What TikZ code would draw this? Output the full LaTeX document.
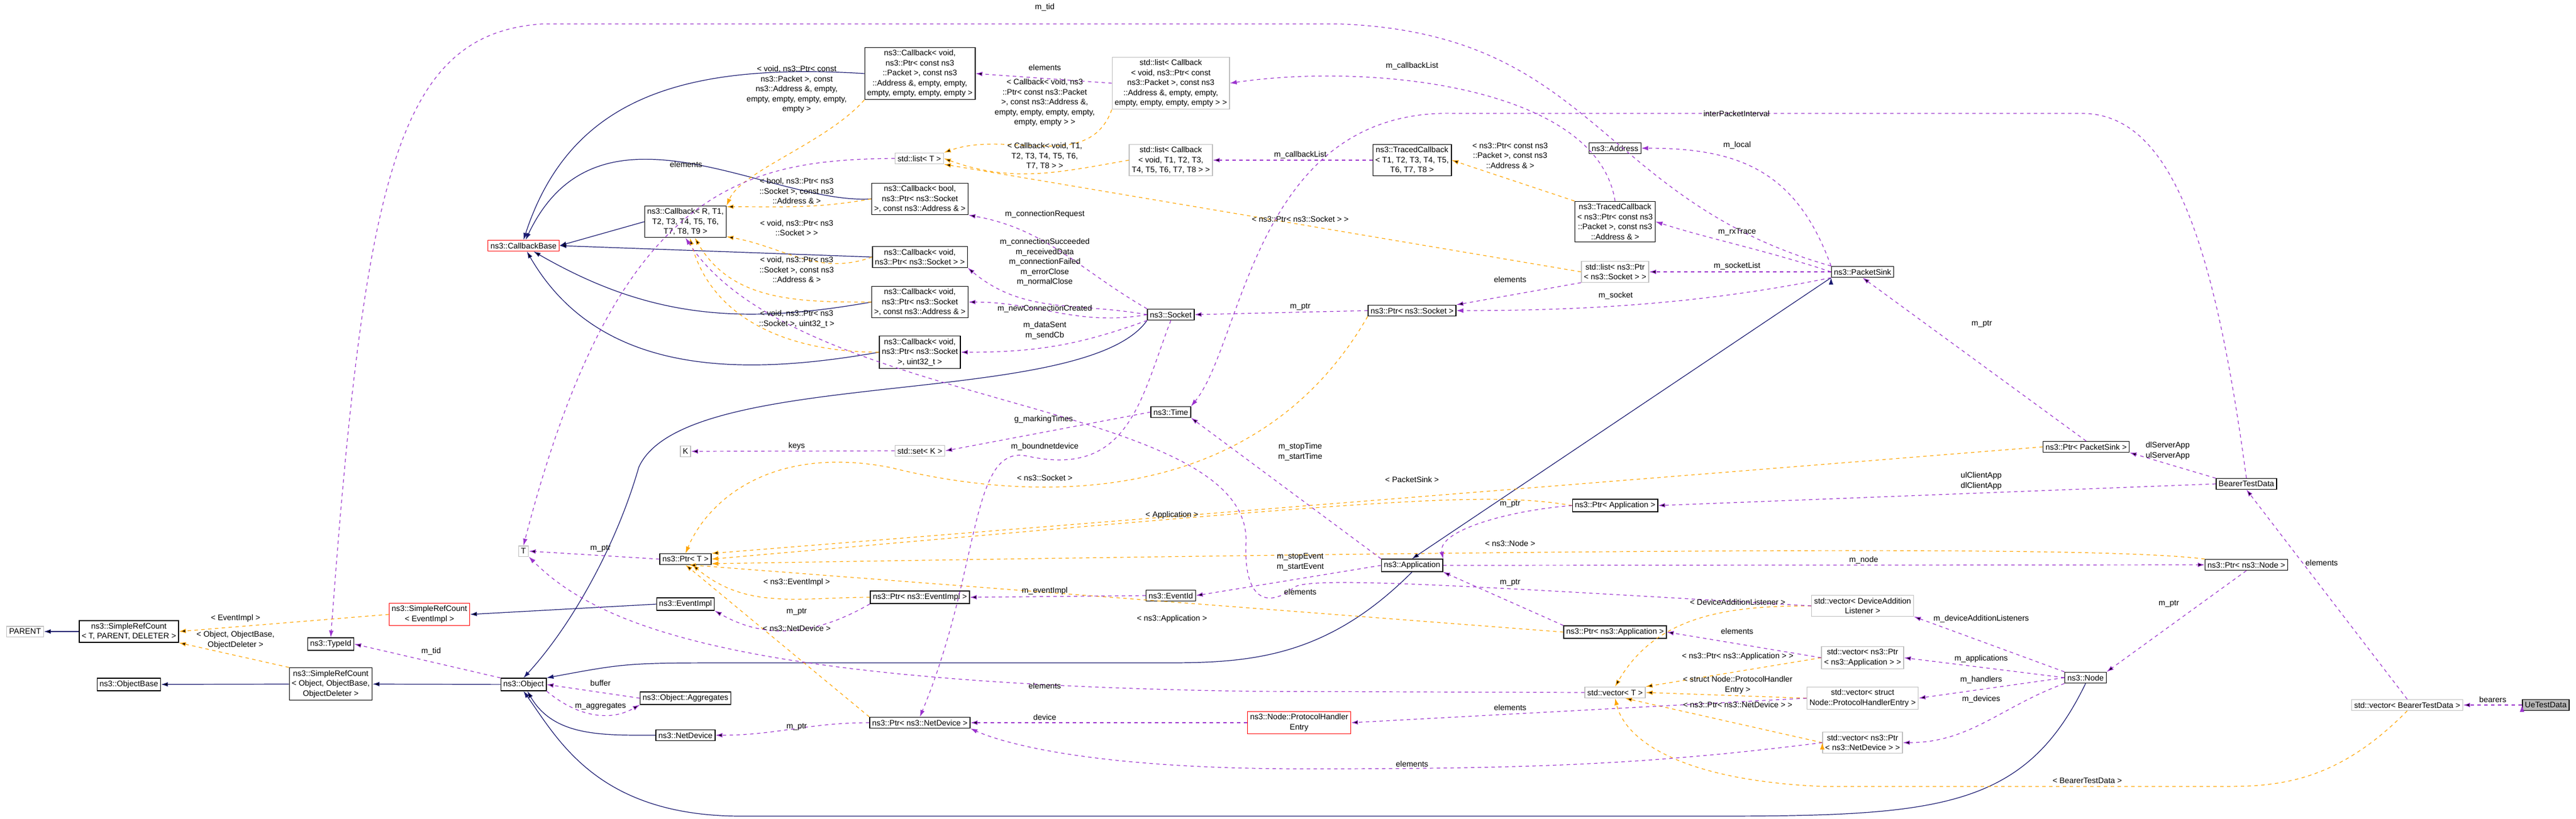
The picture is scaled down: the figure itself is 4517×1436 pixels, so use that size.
\documentclass[tikz,border=0pt]{standalone}
\usepackage{fontspec}
\setmainfont{Liberation Sans}
\usetikzlibrary{arrows.meta}
\definecolor{inhcol}{HTML}{191970}
\definecolor{memcol}{HTML}{9A32CD}
\definecolor{tplcol}{HTML}{FFA500}
\definecolor{stdcol}{HTML}{BFBFBF}
\tikzset{
  cls/.style={draw=black, line width=0.7pt, fill=white, align=center, inner sep=2.2pt, font=\fontsize{7}{8.7}\selectfont},
  stdcls/.style={cls, draw=stdcol},
  redcls/.style={cls, draw=red},
  lbl/.style={align=center, inner sep=0pt, font=\fontsize{7}{8.7}\selectfont},
  inh/.style={draw=inhcol, line width=0.6pt, -{Latex[length=6pt,width=4pt]}},
  mem/.style={draw=memcol, dashed, line width=0.6pt, -{Latex[length=6pt,width=4pt]}},
  tpl/.style={draw=tplcol, dashed, line width=0.6pt, -{Latex[length=6pt,width=4pt]}}
}
\begin{document}
\begin{tikzpicture}[x=0.5pt, y=-0.5pt]
  \useasboundingbox (0,0) rectangle (4517,1436);
  % classes
  \node[stdcls] (parent) at (44,1108) {PARENT};
  \node[cls] (srcT) at (226,1108) {ns3::SimpleRefCount\\< T, PARENT, DELETER >};
  \node[cls] (objbase) at (226,1201) {ns3::ObjectBase};
  \node[cls] (srcObj) at (580,1200) {ns3::SimpleRefCount\\< Object, ObjectBase,\\ObjectDeleter >};
  \node[cls] (typeid) at (580,1130) {ns3::TypeId};
  \node[redcls] (srcEI) at (753,1078) {ns3::SimpleRefCount\\< EventImpl >};
  \node[redcls] (cbbase) at (918,431) {ns3::CallbackBase};
  \node[stdcls] (tT) at (918,967) {T};
  \node[cls] (object) at (918,1201) {ns3::Object};
  \node[cls] (cbRT) at (1202,389) {ns3::Callback< R, T1,\\T2, T3, T4, T5, T6,\\T7, T8, T9 >};
  \node[stdcls] (kK) at (1202,792) {K};
  \node[cls] (ptrT) at (1202,981) {ns3::Ptr< T >};
  \node[cls] (eventimpl) at (1202,1060) {ns3::EventImpl};
  \node[cls] (aggr) at (1202,1225) {ns3::Object::Aggregates};
  \node[cls] (netdev) at (1202,1290) {ns3::NetDevice};
  \node[cls] (cbPkt) at (1613,129) {ns3::Callback< void,\\ns3::Ptr< const ns3\\::Packet >, const ns3\\::Address \&, empty, empty,\\empty, empty, empty, empty >};
  \node[stdcls] (listT) at (1612,278) {std::list< T >};
  \node[cls] (cbBool) at (1613,349) {ns3::Callback< bool,\\ns3::Ptr< ns3::Socket\\>, const ns3::Address \& >};
  \node[cls] (cbSock) at (1613,451) {ns3::Callback< void,\\ns3::Ptr< ns3::Socket > >};
  \node[cls] (cbSockAddr) at (1613,530) {ns3::Callback< void,\\ns3::Ptr< ns3::Socket\\>, const ns3::Address \& >};
  \node[cls] (cbUint) at (1613,618) {ns3::Callback< void,\\ns3::Ptr< ns3::Socket\\>, uint32\_t >};
  \node[stdcls] (setK) at (1613,791) {std::set< K >};
  \node[cls] (ptrEI) at (1613,1048) {ns3::Ptr< ns3::EventImpl >};
  \node[cls] (ptrND) at (1613,1268) {ns3::Ptr< ns3::NetDevice >};
  \node[stdcls] (listCbPkt) at (2053,146) {std::list< Callback\\< void, ns3::Ptr< const\\ns3::Packet >, const ns3\\::Address \&, empty, empty,\\empty, empty, empty, empty > >};
  \node[stdcls] (listCbT) at (2053,281) {std::list< Callback\\< void, T1, T2, T3,\\T4, T5, T6, T7, T8 > >};
  \node[cls] (socket) at (2053,552) {ns3::Socket};
  \node[cls] (time) at (2053,723) {ns3::Time};
  \node[cls] (eventid) at (2053,1045) {ns3::EventId};
  \node[redcls] (phe) at (2278,1268) {ns3::Node::ProtocolHandler\\Entry};
  \node[cls] (tcbT) at (2476,281) {ns3::TracedCallback\\< T1, T2, T3, T4, T5,\\T6, T7, T8 >};
  \node[cls] (ptrSock) at (2476,545) {ns3::Ptr< ns3::Socket >};
  \node[cls] (app) at (2476,992) {ns3::Application};
  \node[cls] (address) at (2832,260) {ns3::Address};
  \node[cls] (tcbPkt) at (2832,389) {ns3::TracedCallback\\< ns3::Ptr< const ns3\\::Packet >, const ns3\\::Address \& >};
  \node[stdcls] (listPtrSock) at (2832,477) {std::list< ns3::Ptr\\< ns3::Socket > >};
  \node[cls] (ptrApp) at (2832,887) {ns3::Ptr< Application >};
  \node[cls] (ptrNsApp) at (2832,1109) {ns3::Ptr< ns3::Application >};
  \node[stdcls] (vecT) at (2832,1215) {std::vector< T >};
  \node[cls] (sink) at (3266,477) {ns3::PacketSink};
  \node[stdcls] (vecDAL) at (3266,1063) {std::vector< DeviceAddition\\Listener >};
  \node[stdcls] (vecPApp) at (3266,1154) {std::vector< ns3::Ptr\\< ns3::Application > >};
  \node[stdcls] (vecPHE) at (3266,1225) {std::vector< struct\\Node::ProtocolHandlerEntry >};
  \node[stdcls] (vecPND) at (3266,1303) {std::vector< ns3::Ptr\\< ns3::NetDevice > >};
  \node[cls] (ptrSink) at (3658,784) {ns3::Ptr< PacketSink >};
  \node[cls] (node) at (3657,1189) {ns3::Node};
  \node[cls] (bearer) at (3939,849) {BearerTestData};
  \node[cls] (ptrNode) at (3939,991) {ns3::Ptr< ns3::Node >};
  \node[stdcls] (vecBearer) at (4221,1237) {std::vector< BearerTestData >};
  \node[cls, fill=black!27] (ue) at (4464,1237) {UeTestData};

  % inheritance
  \path[inh]
  (srcT) edge (parent)
  (srcObj) edge (objbase)
  (object) edge (srcObj)
  (eventimpl.west) edge (srcEI.east)
  (cbRT.west) edge (cbbase.east)
  (cbSock.west) edge (cbbase.east)
  (cbSockAddr.west) edge[out=190, in=-30] (cbbase.-30)
  (cbUint.west) edge[out=190, in=-60] (cbbase.-60)
  (netdev.west) edge[out=180, in=-60] (object.-60)
  (sink.south west) edge (app.north)
  ;
  \draw[inh] (cbPkt.west) .. controls (1200,110) and (1000,170) .. (cbbase.north);
  \draw[inh] (cbBool.west) .. controls (1350,360) and (1050,150) .. (cbbase.70);
  \draw[inh] (socket.south west) .. controls (1900,720) and (1200,640) .. (1120,820) .. controls (1080,960) and (1000,1100) .. (object.north);
  \draw[inh] (app.south) .. controls (2330,1150) and (2200,1163) .. (2050,1163) -- (1300,1163) .. controls (1100,1163) .. (object.north east);
  \draw[inh] (node.south) .. controls (3550,1420) and (3400,1432) .. (3000,1432) -- (1300,1432) .. controls (1050,1432) and (980,1300) .. (object.south);

  % template instances
  \path[tpl]
  (cbBool.west) edge[out=190, in=0] (cbRT.20)
  (cbSock.west) edge[out=200, in=-10] (cbRT.-20)
  (cbSockAddr.west) edge[out=180, in=-60] (cbRT.-60)
  (cbUint.west) edge[out=180, in=-75] (cbRT.-75)
  (listCbPkt.south west) edge[out=-110, in=20] (listT.north east)
  (listCbT.west) edge[out=190, in=-20] (listT.east)
  (listPtrSock.west) edge (listT.south east)
  (tcbPkt.north west) edge (tcbT.east)
  (srcEI.west) edge (srcT.east)
  (srcObj.north west) edge (srcT.south east)
  (ptrSink.west) edge (ptrT.north east)
  (ptrEI.west) edge[out=180, in=-40] (ptrT.-40)
  (ptrND.north west) edge (ptrT.south)
  (ptrNsApp.west) edge (ptrT.-60)
  (vecDAL.west) edge[out=180, in=60] (vecT.north)
  (vecPApp.west) edge (vecT.north east)
  (vecPHE.west) edge (vecT.east)
  (vecPND.west) edge (vecT.-30)
  ;
  \draw[tpl] (cbPkt.south west) .. controls (1450,250) and (1300,300) .. (cbRT.north east);
  \draw[tpl] (ptrApp.west) .. controls (2600,860) and (2400,880) .. (ptrT.east);
  \draw[tpl] (ptrNode.north west) .. controls (3700,960) and (3000,960) .. (ptrT.-10);
  \draw[tpl] (ptrSock.south west) .. controls (2200,900) and (1800,880) .. (1560,820) .. controls (1350,780) and (1240,880) .. (ptrT.north);
  \draw[tpl] (vecBearer.south) .. controls (4100,1370) and (4000,1380) .. (3900,1380) -- (3200,1380) .. controls (2950,1370) and (2850,1300) .. (vecT.south);

  % members
  \path[mem]
  (listCbPkt.west) edge (cbPkt.east)
  (socket.north west) edge[out=150, in=-10] (cbBool.south east)
  (socket.west) edge[out=170, in=-40] (cbSock.south east)
  (socket.west) edge[out=190, in=0] (cbSockAddr.east)
  (socket.south west) edge[out=200, in=0] (cbUint.east)
  (ptrSock.west) edge (socket.east)
  (tcbT.west) edge (listCbT.east)
  (sink.west) edge (listPtrSock.east)
  (listPtrSock.south west) edge (ptrSock.north east)
  (ptrSink.north) edge (sink.south)
  (bearer.north west) edge (ptrSink.south east)
  (bearer.west) edge (ptrApp.east)
  (app.north west) edge (time.south east)
  (app.west) edge (eventid.east)
  (app.east) edge (ptrNode.west)
  (eventid.west) edge (ptrEI.east)
  (ptrEI.south west) edge[out=-150, in=-30] (eventimpl.south east)
  (ptrT.west) edge (tT.east)
  (setK.west) edge (kK.east)
  (time.west) edge (setK.east)
  (ptrNsApp.north west) edge (app.south east)
  (vecPApp.west) edge (ptrNsApp.east)
  (vecPHE.west) edge (phe.east)
  (node.north west) edge (vecDAL.south east)
  (node.west) edge (vecPApp.east)
  (node.west) edge (vecPHE.east)
  (node.south west) edge[out=200, in=0] (vecPND.east)
  (ptrNode.south) edge (node.north east)
  (phe.west) edge (ptrND.east)
  (ptrND.west) edge[out=180, in=0] (netdev.east)
  (object.north west) edge (typeid.east)
  (aggr.west) edge (object.east)
  (object.south east) edge[out=-40, in=-150] (aggr.south west)
  (vecBearer.north) edge (bearer.south)
  (ue.west) edge (vecBearer.east)
  ;
  \draw[mem] (ptrApp.west) .. controls (2650,895) and (2520,930) .. (app.north east);
  \draw[mem] (tcbPkt.north) .. controls (2800,150) and (2400,110) .. (listCbPkt.east);
  \draw[mem] (sink.north west) .. controls (3150,300) and (3050,260) .. (address.east);
  \draw[mem] (sink.west) .. controls (3100,440) and (3000,420) .. (tcbPkt.east);
  \draw[mem] (sink.south west) .. controls (3000,530) and (2800,545) .. (ptrSock.east);
  \draw[mem] (listT.west) .. controls (1300,280) and (1080,330) .. (tT.north);
  \draw[mem] (vecT.west) -- (2200,1213) .. controls (1300,1200) and (1050,1100) .. (tT.south east);
  \draw[mem] (vecDAL.west) .. controls (2600,1030) and (2300,1010) .. (2270,1030) .. controls (2220,1070) and (2180,1050) .. (2185,950) .. controls (2190,700) and (1400,720) .. (cbRT.south);
  \draw[mem] (socket.south) .. controls (2000,700) and (1980,840) .. (1800,800) .. controls (1700,780) and (1720,1000) .. (ptrND.north);
  \draw[mem] (vecPND.west) .. controls (2900,1340) and (2700,1349) .. (2300,1349) .. controls (1900,1350) and (1750,1300) .. (ptrND.south east);
  \draw[mem] (bearer.north) .. controls (3880,400) and (3800,199) .. (3650,199) -- (2550,199) .. controls (2200,190) and (2180,600) .. (time.north east);
  \draw[mem] (sink.north west) .. controls (2800,350) and (2800,60) .. (2350,42) -- (950,42) .. controls (700,60) and (640,300) .. (typeid.north);

  % labels
  \node[lbl] (lElemCbT) at (1203,288) {elements};
  \node[lbl] (lTplPkt) at (1397,157) {< void, ns3::Ptr< const\\ns3::Packet >, const\\ns3::Address \&, empty,\\empty, empty, empty, empty,\\empty >};
  \node[lbl] (lTplBool) at (1397,335) {< bool, ns3::Ptr< ns3\\::Socket >, const ns3\\::Address \& >};
  \node[lbl] (lTplSock) at (1397,400) {< void, ns3::Ptr< ns3\\::Socket > >};
  \node[lbl] (lTplSockAddr) at (1397,473) {< void, ns3::Ptr< ns3\\::Socket >, const ns3\\::Address \& >};
  \node[lbl] (lTplUint) at (1397,560) {< void, ns3::Ptr< ns3\\::Socket >, uint32\_t >};
  \node[lbl] (lTid) at (1832,13) {m\_tid};
  \node[lbl] (lElemPkt) at (1832,118) {elements};
  \node[lbl] (lTplListPkt) at (1832,180) {< Callback< void, ns3\\::Ptr< const ns3::Packet\\>, const ns3::Address \&,\\empty, empty, empty, empty,\\empty, empty > >};
  \node[lbl] (lTplListT) at (1832,274) {< Callback< void, T1,\\T2, T3, T4, T5, T6,\\T7, T8 > >};
  \node[lbl] (lConnReq) at (1832,376) {m\_connectionRequest};
  \node[lbl] (lConnSucc) at (1832,460) {m\_connectionSucceeded\\m\_receivedData\\m\_connectionFailed\\m\_errorClose\\m\_normalClose};
  \node[lbl] (lNewConn) at (1832,542) {m\_newConnectionCreated};
  \node[lbl] (lDataSent) at (1832,580) {m\_dataSent\\m\_sendCb};
  \node[lbl] (lCbList1) at (2476,116) {m\_callbackList};
  \node[lbl] (lCbList2) at (2280,272) {m\_callbackList};
  \node[lbl] (lTplTcb) at (2648,273) {< ns3::Ptr< const ns3\\::Packet >, const ns3\\::Address \& >};
  \node[lbl] (lTplPtrSock) at (2280,384) {< ns3::Ptr< ns3::Socket > >};
  \node[lbl] (lElemSock) at (2648,490) {elements};
  \node[lbl] (lPtrSock) at (2280,538) {m\_ptr};
  \node[lbl] (lSocket) at (2833,519) {m\_socket};
  \node[lbl] (lInterval) at (3045,199) {interPacketInterval};
  \node[lbl] (lLocal) at (3046,255) {m\_local};
  \node[lbl] (lRxTrace) at (3046,407) {m\_rxTrace};
  \node[lbl] (lSockList) at (3046,467) {m\_socketList};
  \node[lbl] (lPtrSink) at (3475,568) {m\_ptr};
  \node[lbl] (lMarking) at (1830,736) {g\_markingTimes};
  \node[lbl] (lKeys) at (1397,783) {keys};
  \node[lbl] (lBound) at (1832,784) {m\_boundnetdevice};
  \node[lbl] (lTimes) at (2280,793) {m\_stopTime\\m\_startTime};
  \node[lbl] (lTplSocket) at (1832,838) {< ns3::Socket >};
  \node[lbl] (lTplSink) at (2476,841) {< PacketSink >};
  \node[lbl] (lPtrApp) at (2648,884) {m\_ptr};
  \node[lbl] (lTplApp) at (2055,904) {< Application >};
  \node[lbl] (lTplNode) at (2648,953) {< ns3::Node >};
  \node[lbl] (lServer) at (3801,791) {dlServerApp\\ulServerApp};
  \node[lbl] (lClient) at (3474,844) {ulClientApp\\dlClientApp};
  \node[lbl] (lPtrT) at (1053,962) {m\_ptr};
  \node[lbl] (lNode) at (3268,983) {m\_node};
  \node[lbl] (lElemBearer) at (4071,987) {elements};
  \node[lbl] (lEvents) at (2280,986) {m\_stopEvent\\m\_startEvent};
  \node[lbl] (lTplEI) at (1397,1022) {< ns3::EventImpl >};
  \node[lbl] (lPtrNsApp) at (2648,1022) {m\_ptr};
  \node[lbl] (lEvImpl) at (1832,1037) {m\_eventImpl};
  \node[lbl] (lElemDAL) at (2280,1038) {elements};
  \node[lbl] (lTplDAL) at (3047,1056) {< DeviceAdditionListener >};
  \node[lbl] (lPtrNode) at (3803,1059) {m\_ptr};
  \node[lbl] (lPtrEI) at (1397,1073) {m\_ptr};
  \node[lbl] (lTplEvImpl) at (413,1085) {< EventImpl >};
  \node[lbl] (lTplNsApp) at (2055,1086) {< ns3::Application >};
  \node[lbl] (lDAL) at (3474,1086) {m\_deviceAdditionListeners};
  \node[lbl] (lTplND) at (1397,1102) {< ns3::NetDevice >};
  \node[lbl] (lElemApp) at (3046,1107) {elements};
  \node[lbl] (lTplObj) at (413,1123) {< Object, ObjectBase,\\ObjectDeleter >};
  \node[lbl] (lTidObj) at (756,1143) {m\_tid};
  \node[lbl] (lTplPApp) at (3047,1152) {< ns3::Ptr< ns3::Application > >};
  \node[lbl] (lApps) at (3474,1156) {m\_applications};
  \node[lbl] (lHandlers) at (3474,1193) {m\_handlers};
  \node[lbl] (lBuffer) at (1053,1198) {buffer};
  \node[lbl] (lTplPHE) at (3047,1202) {< struct Node::ProtocolHandler\\Entry >};
  \node[lbl] (lElemT) at (1832,1203) {elements};
  \node[lbl] (lBearers) at (4371,1227) {bearers};
  \node[lbl] (lDevices) at (3474,1227) {m\_devices};
  \node[lbl] (lTplPND) at (3047,1236) {< ns3::Ptr< ns3::NetDevice > >};
  \node[lbl] (lAggr) at (1053,1239) {m\_aggregates};
  \node[lbl] (lElemPHE) at (2648,1241) {elements};
  \node[lbl] (lDevice) at (1832,1258) {device};
  \node[lbl] (lPtrND) at (1397,1275) {m\_ptr};
  \node[lbl] (lElemPND) at (2476,1340) {elements};
  \node[lbl] (lTplBearer) at (3660,1370) {< BearerTestData >};
\end{tikzpicture}
\end{document}
